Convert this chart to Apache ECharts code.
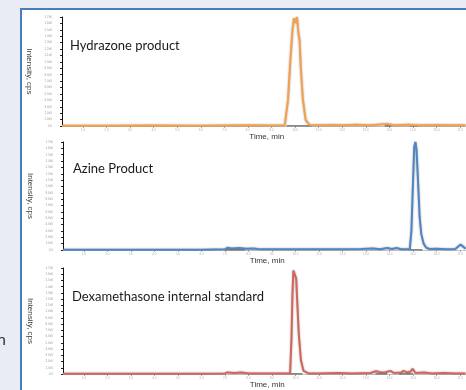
<!DOCTYPE html>
<html>
<head>
<meta charset="utf-8">
<script src="https://cdn.jsdelivr.net/npm/echarts@6/dist/echarts.min.js"></script>
<style>
  html, body { margin: 0; padding: 0; background: #e9ecf5; }
  #wrap { position: relative; width: 466px; height: 390px; overflow: hidden; background: #e9ecf5; }
  #panel { position: absolute; left: 20px; top: 8px; width: 460px; height: 400px; background: #ffffff; border-left: 2px solid #4a7cc0; border-top: 2px solid #4a7cc0; }
  #chart { position: absolute; left: 0; top: 0; width: 466px; height: 390px; }
</style>
</head>
<body>
<div id="wrap">
  <div id="panel"></div>
  <div id="chart"></div>
</div>
<script>
// ---- data ----
const panelTitles = ['Hydrazone product', 'Azine Product', 'Dexamethasone internal standard'];
const xAxisName = 'Time, min';
const yAxisName = 'Intensity, cps';
const xTicks = [1, 2, 3, 4, 5, 6, 7, 8, 9, 10, 11, 12, 13, 14, 15, 16, 17];
const xTickLabels = ['1.0','2.0','3.0','4.0','5.0','6.0','7.0','8.0','9.0','10.0','11.0','12.0','13.0','14.0','15.0','16.0','17.0'];
const yTickLabels = ['0.0','1.0e5','2.0e5','3.0e5','4.0e5','5.0e5','6.0e5','7.0e5','8.0e5','9.0e5','1.0e6','1.1e6','1.2e6','1.3e6','1.4e6','1.5e6','1.6e6','1.7e6'];

const hydrazone = [[0.11,0.05],[2,0.05],[4,0.08],[6,0.05],[8,0.1],[9,0.08],[9.56,0.1],[9.70,4.1],[9.80,10.3],[9.89,15.0],[9.95,16.8],[10.03,16.1],[10.08,17.0],[10.14,14.5],[10.19,13.4],[10.24,9.2],[10.33,4.1],[10.45,0.9],[10.62,0.15],[11,0.1],[11.5,0.15],[12,0.1],[12.6,0.2],[13.2,0.1],[13.9,0.3],[14.2,0.1],[14.8,0.2],[15.3,0.1],[16,0.15],[16.6,0.1],[17.23,0.1]];
const azine = [[0.11,0.05],[3,0.05],[6,0.05],[7.0,0.1],[7.1,0.35],[7.3,0.25],[7.6,0.3],[7.9,0.2],[8.2,0.25],[8.4,0.15],[8.45,0.35],[8.6,0.12],[9.2,0.1],[10,0.1],[11,0.12],[12,0.1],[12.8,0.15],[13.3,0.25],[13.6,0.12],[13.9,0.3],[14.1,0.15],[14.3,0.3],[14.5,0.12],[14.86,0.1],[14.93,3.0],[15.0,10.9],[15.05,16.2],[15.10,17.0],[15.15,15.7],[15.21,10.9],[15.28,5.2],[15.35,2.5],[15.45,1.0],[15.56,0.35],[15.70,0.15],[16.0,0.2],[16.4,0.1],[16.8,0.15],[17.02,0.85],[17.16,0.45],[17.23,0.2]];
const dexamethasone = [[0.11,0.05],[3,0.05],[6,0.05],[7.0,0.1],[7.1,0.25],[7.4,0.15],[7.7,0.25],[8.0,0.1],[9,0.08],[9.77,0.1],[9.83,5.8],[9.87,12.7],[9.91,16.6],[9.97,16.9],[10.03,15.3],[10.08,11.1],[10.14,6.4],[10.23,2.2],[10.34,0.5],[10.55,0.1],[11,0.1],[11.8,0.15],[12.4,0.1],[13.2,0.15],[13.42,0.45],[13.6,0.3],[13.8,0.25],[14.03,0.5],[14.2,0.15],[14.5,0.25],[14.6,0.5],[14.75,0.25],[14.9,0.4],[14.98,0.85],[15.1,0.15],[15.47,0.25],[15.8,0.1],[16.3,0.15],[16.8,0.1],[17.23,0.1]];

// integration baselines (black)
const hydrazoneBase = [[9.64,0],[10.7,0],'-',[13.8,0],[14.1,0],'-',[14.86,0],[15.2,0]];
const azineBase = [[7.0,0],[7.85,0],'-',[14.86,0],[15.4,0]];
const dexaBase = [[9.77,0],[10.3,0],'-',[13.4,0],[13.9,0],'-',[14.4,0],[15.0,0]];

const traces = [hydrazone, azine, dexamethasone];
const baselines = [hydrazoneBase, azineBase, dexaBase];
const colors = ['#f5a04c', '#4f86c4', '#d4655d'];

// ---- layout ----
const grids = [
  { left: 62, top: 17, height: 109, right: 0 },
  { left: 63, top: 142, height: 108, right: 0 },
  { left: 63, top: 268, height: 108, right: 0 }
];
const titlePos = [[70, 46], [73, 169], [72, 297]];

const chart = echarts.init(document.getElementById('chart'), null, { renderer: 'canvas' });

const xAxes = grids.map((g, i) => ({
  type: 'value', gridIndex: i, min: 0.11, max: 17.23,
  name: xAxisName, nameLocation: 'middle', nameGap: 7,
  nameTextStyle: { fontFamily: 'Liberation Sans', fontSize: 8, color: '#333', padding: [0, 0, 0, 6] },
  axisLine: { show: true, lineStyle: { color: '#c8c8c8', width: 1 } },
  axisTick: { show: true, customValues: xTicks, length: 2, lineStyle: { color: '#aaa' } },
  axisLabel: { show: true, customValues: xTicks, fontSize: 3, color: '#b0b0b0', margin: 3,
    formatter: v => xTickLabels[xTicks.indexOf(Math.round(v))] || '' },
  splitLine: { show: false }
}));

const yAxes = grids.map((g, i) => ({
  type: 'value', gridIndex: i, min: 0, max: 17, interval: 1,
  name: yAxisName, nameLocation: 'middle', nameGap: 23, nameRotate: -90,
  nameTextStyle: { fontFamily: 'Liberation Sans', fontSize: 8, color: '#404040' },
  axisLine: { show: true, lineStyle: { color: '#111', width: 1 } },
  axisTick: { show: true, length: 2, lineStyle: { color: '#222' } },
  axisLabel: { show: true, fontSize: 3, color: '#a0a0a0', margin: 10,
    formatter: v => yTickLabels[Math.round(v)] || '' },
  splitLine: { show: false }
}));

const series = [];
traces.forEach((d, i) => {
  series.push({
    type: 'line', xAxisIndex: i, yAxisIndex: i, data: d, showSymbol: false, symbol: 'none',
    lineStyle: { color: colors[i], width: 2, shadowColor: 'rgba(0,0,0,0.35)', shadowBlur: 2 },
    z: 3, animation: false
  });
  series.push({
    type: 'line', xAxisIndex: i, yAxisIndex: i, data: baselines[i], showSymbol: false, symbol: 'none',
    lineStyle: { color: '#111', width: 1 }, z: 2, animation: false
  });
});

const graphics = panelTitles.map((t, i) => ({
  type: 'text', left: titlePos[i][0], top: titlePos[i][1] - 7, z: 10,
  style: { text: t, fontFamily: 'Lato', fontSize: 13, fill: '#1a1a1a' }
}));
graphics.push({
  type: 'text', left: -3, top: 332, z: 10,
  style: { text: 'n', fontFamily: 'Lato', fontSize: 16, fill: '#333' }
});

chart.setOption({
  backgroundColor: 'transparent',
  animation: false,
  grid: grids,
  xAxis: xAxes,
  yAxis: yAxes,
  series: series,
  graphic: graphics
});
</script>
</body>
</html>
